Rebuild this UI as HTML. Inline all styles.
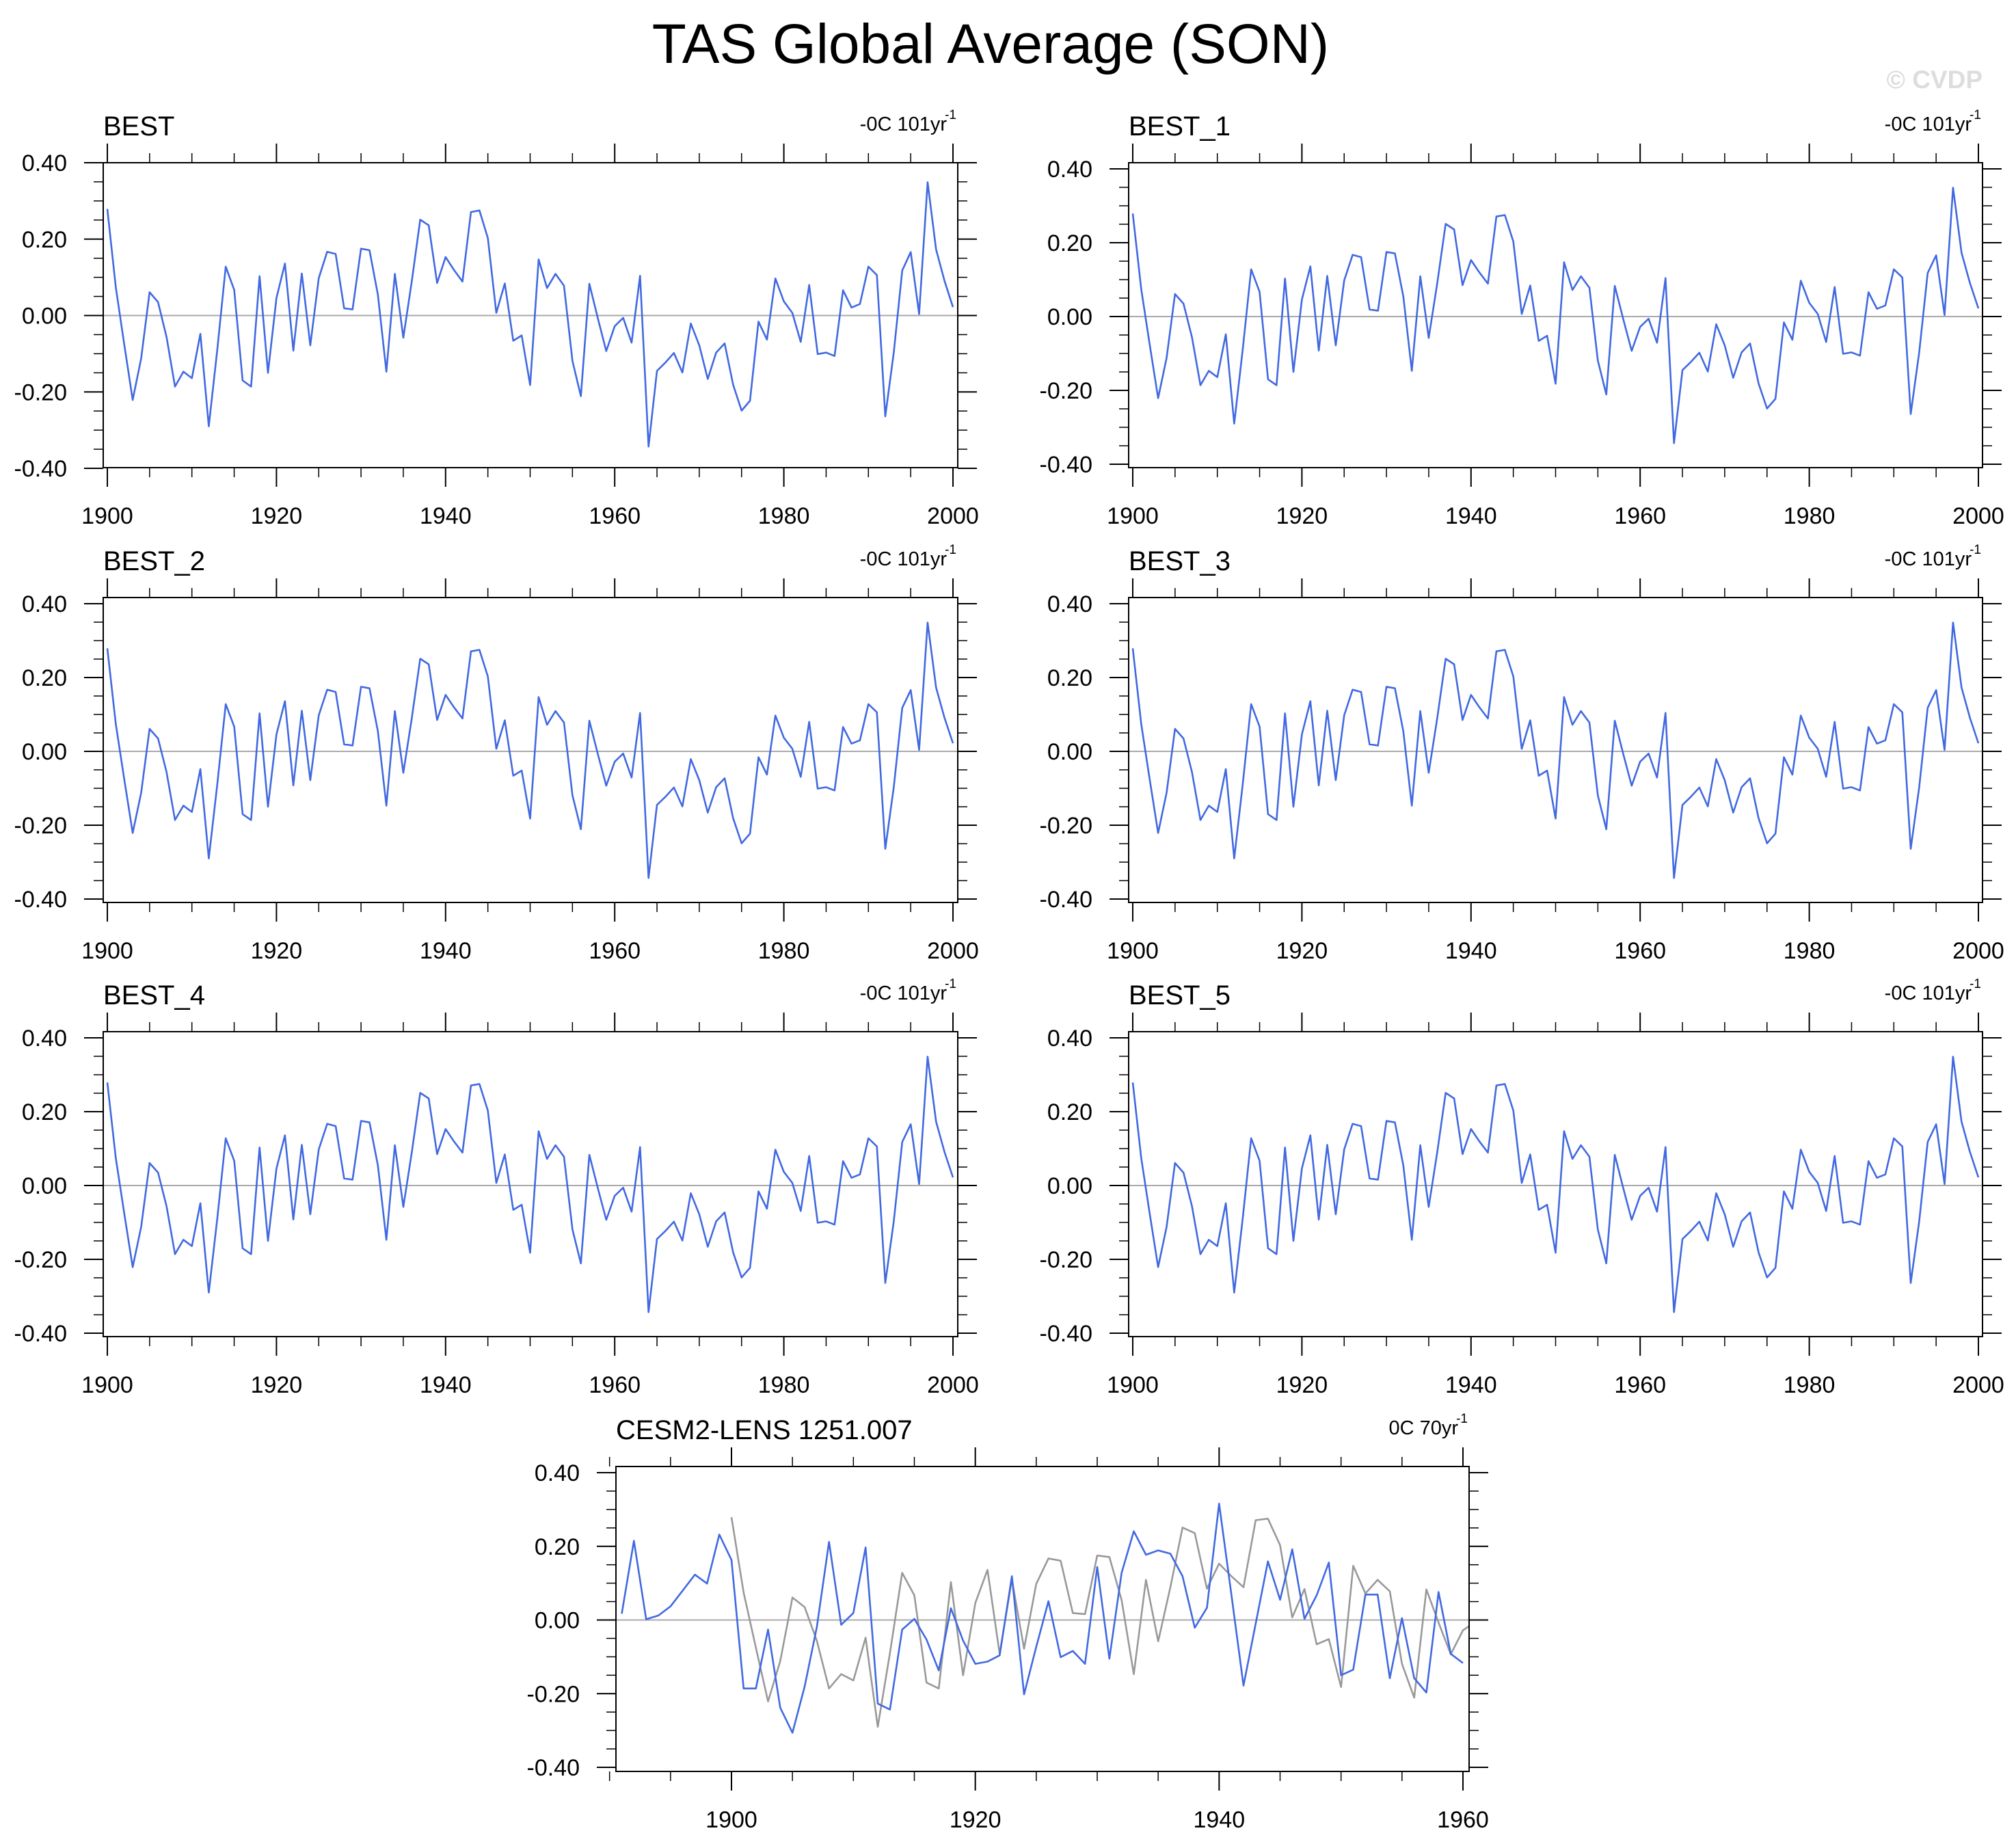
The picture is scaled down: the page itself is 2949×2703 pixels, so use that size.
<!DOCTYPE html>
<html><head><meta charset="utf-8"><style>
html,body{margin:0;padding:0;background:#fff;}
svg{display:block;font-family:"Liberation Sans",sans-serif;}
</style></head><body>
<svg id="chart" width="2949" height="2703" viewBox="0 0 2949 2703" xmlns="http://www.w3.org/2000/svg">
<text x="1449" y="92" font-size="82" text-anchor="middle">TAS Global Average (SON)</text>
<text x="2900" y="129" font-size="37" font-weight="bold" fill="#dddddd" text-anchor="end">© CVDP</text>
</svg>
<script>
const bestYears0 = 1900;
const bestValues = [0.279,0.074,-0.075,-0.221,-0.112,0.061,0.035,-0.056,-0.186,-0.147,-0.164,-0.048,-0.29,-0.09,0.128,0.067,-0.17,-0.186,0.103,-0.15,0.046,0.136,-0.092,0.11,-0.078,0.098,0.167,0.161,0.019,0.016,0.175,0.171,0.054,-0.147,0.109,-0.058,0.089,0.251,0.236,0.085,0.153,0.119,0.089,0.271,0.275,0.203,0.007,0.084,-0.066,-0.052,-0.182,0.147,0.072,0.109,0.078,-0.119,-0.211,0.083,-0.007,-0.093,-0.028,-0.006,-0.071,0.104,-0.343,-0.145,-0.123,-0.098,-0.149,-0.021,-0.078,-0.166,-0.097,-0.073,-0.181,-0.249,-0.223,-0.016,-0.063,0.097,0.037,0.007,-0.069,0.08,-0.101,-0.097,-0.106,0.066,0.021,0.03,0.128,0.106,-0.264,-0.097,0.118,0.166,0.004,0.349,0.173,0.091,0.022];
const cesmYears0 = 1891;
const cesmValues = [0.017,0.215,0.002,0.012,0.037,0.080,0.123,0.099,0.232,0.163,-0.186,-0.186,-0.026,-0.238,-0.306,-0.181,-0.02,0.212,-0.013,0.019,0.197,-0.227,-0.243,-0.026,0.003,-0.053,-0.137,0.032,-0.056,-0.119,-0.113,-0.096,0.119,-0.202,-0.073,0.051,-0.101,-0.084,-0.119,0.144,-0.105,0.128,0.241,0.177,0.189,0.180,0.119,-0.021,0.033,0.316,0.07,-0.178,-0.01,0.159,0.055,0.192,0.003,0.067,0.156,-0.150,-0.135,0.069,0.069,-0.158,0.005,-0.158,-0.197,0.076,-0.092,-0.117];
const yTickValues = [0.4,0.2,0.0,-0.2,-0.4];
const yTickLabels = ["0.40","0.20","0.00","-0.20","-0.40"];
const bestXTicks = [1900,1920,1940,1960,1980,2000];
const cesmXTicks = [1900,1920,1940,1960];
const panelTitles = ["BEST","BEST_1","BEST_2","BEST_3","BEST_4","BEST_5"];

const NS="http://www.w3.org/2000/svg";
const svg=document.getElementById('chart');
function mk(tag,attrs,parent){const e=document.createElementNS(NS,tag);for(const k in attrs)e.setAttribute(k,attrs[k]);(parent||svg).appendChild(e);return e;}

function panel(p){
  const g=mk('g',{});
  
  
  const xs=v=>p.x1900+(v-p.yr0)*(p.x2-p.x1900)/(p.yr2-p.yr0);
  const ys=v=>p.yTop+(0.4-v)*(p.yBot-p.yTop)/0.8;
  const cid='clip'+p.id;
  const cp=mk('clipPath',{id:cid},g);
  mk('rect',{x:p.fl,y:p.ft,width:p.fr-p.fl,height:p.fb-p.ft},cp);
  const z=mk('line',{x1:p.fl,x2:p.fr,y1:ys(0),y2:ys(0),stroke:'#aaaaaa','stroke-width':2},g);
  
  
  p.series.forEach(s=>{
    let d='';
    s.vals.forEach((v,i)=>{d+=(i?'L':'M')+xs(s.y0+i).toFixed(1)+','+ys(v).toFixed(1);});
    const pl=mk('path',{d:d,fill:'none',stroke:s.color,'stroke-width':2.6,'stroke-linejoin':'round','clip-path':'url(#'+cid+')'},g);
    
    
  });
  const fr=mk('rect',{x:p.fl,y:p.ft,width:p.fr-p.fl,height:p.fb-p.ft,fill:'none',stroke:'#000','stroke-width':2},g);
  
  
  for(let yr=Math.ceil(p.xmin/5)*5;yr<=p.xmax;yr+=5){
    const x=xs(yr);const maj=yr%20===0;const L=maj?28:14;
    mk('line',{x1:x,x2:x,y1:p.ft,y2:p.ft-L,stroke:'#000','stroke-width':maj?2:1.5},g);
    mk('line',{x1:x,x2:x,y1:p.fb,y2:p.fb+L,stroke:'#000','stroke-width':maj?2:1.5},g);
  }
  p.xticks.forEach(yr=>{
    const t=mk('text',{x:xs(yr),y:p.fb+82,'font-size':34,'text-anchor':'middle'},g);
    t.textContent=String(yr);
    
    
  });
  for(let k=-8;k<=8;k++){
    const v=k*0.05;const y=ys(v);const maj=k%4===0;const L=maj?28:14;
    mk('line',{x1:p.fl,x2:p.fl-L,y1:y,y2:y,stroke:'#000','stroke-width':maj?2:1.5},g);
    mk('line',{x1:p.fr,x2:p.fr+L,y1:y,y2:y,stroke:'#000','stroke-width':maj?2:1.5},g);
  }
  yTickValues.forEach((v,i)=>{
    const t=mk('text',{x:p.fl-53,y:ys(v)+12,'font-size':34,'text-anchor':'end'},g);
    t.textContent=yTickLabels[i];
    
    
  });
  const tt=mk('text',{x:p.fl,y:p.ft-40,'font-size':40},g);
  tt.textContent=p.title;
  
  
  const tr=mk('text',{x:p.fr-16,y:p.ft-47,'font-size':29,'text-anchor':'end'},g);
  tr.textContent=p.trend;
  
  
  const sup=mk('text',{x:p.fr-2,y:p.ft-64,'font-size':19,'text-anchor':'end'},g);
  sup.textContent='-1';
  
  
}

const rowTops=[238,874,1509];
for(let i=0;i<6;i++){
  const col=i%2,row=Math.floor(i/2);
  const ft=rowTops[row];
  const left=col===0?{fl:151,fr:1401,x1900:157,x2:1394}:{fl:1651,fr:2900,x1900:1657,x2:2894};
  const special=(i===0);
  panel(Object.assign({id:i,name:'panel-'+panelTitles[i].toLowerCase().replace('_','-'),title:panelTitles[i],trend:'-0C 101yr',
    ft:ft,fb:ft+446,yTop:special?ft:ft+9,yBot:special?ft+447:ft+441,
    yr0:1900,yr2:2000,xmin:1899,xmax:2001,xticks:bestXTicks,
    series:[{name:'best-series',vals:bestValues,y0:bestYears0,color:'#4169e1'}]},left));
}
panel({id:6,name:'panel-cesm2-lens',title:'CESM2-LENS 1251.007',trend:'0C 70yr',
  fl:901,fr:2149,ft:2145,fb:2591,yTop:2154,yBot:2585,x1900:1070,x2:2140,yr0:1900,yr2:1960,
  xmin:1890,xmax:1961,xticks:cesmXTicks,
  series:[{name:'observed-gray-series',vals:bestValues,y0:bestYears0,color:'#999999'},
          {name:'cesm-series',vals:cesmValues,y0:cesmYears0,color:'#4169e1'}]});
</script>
</body></html>
